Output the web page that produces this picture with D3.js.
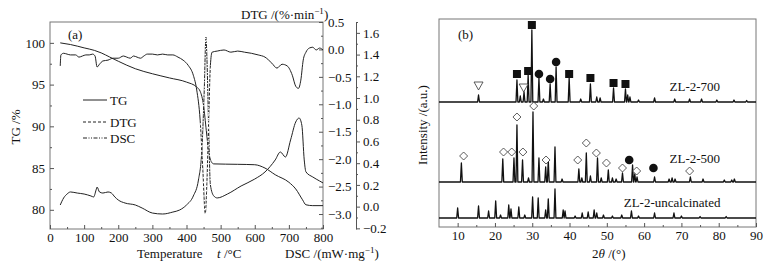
<!DOCTYPE html>
<meta charset="utf-8">
<style>
body { margin: 0; background: #fff; }
text { font: 13px "Liberation Serif", "Times New Roman", serif; fill: #111; }
.frame { stroke: #777; fill: none; stroke-width: 1; }
.axis path, .axis line { stroke: #555; }
.axis text { font: 13px "Liberation Serif", serif; fill: #111; }
</style>
<svg width="778" height="267"></svg>
<script src="https://d3js.org/d3.v7.min.js"></script>
<script>
// ---- panel (a): thermal analysis, [T (°C), value] ----
var tgData = [[30,100.0],[60,99.8],[100,99.4],[130,99.1],[150,98.8],[175,98.3],[200,97.8],[250,96.9],
  [300,96.3],[350,95.8],[400,95.3],[430,94.7],[440,94.2],[450,92.5],[458,89.5],[465,87.0],[472,85.8],
  [480,85.5],[550,85.45],[600,85.4],[630,85.0],[660,84.2],[700,83.3],[720,82.5],[740,81.2],[750,80.6],
  [770,80.5],[800,80.5]];

var dtgData = [[30,-0.30],[32,-0.10],[40,-0.07],[50,-0.085],[60,-0.10],[75,-0.10],[85,-0.14],[95,-0.12],
  [105,-0.10],[115,-0.10],[125,-0.085],[132,-0.12],[138,-0.32],[145,-0.27],[155,-0.21],[170,-0.195],
  [185,-0.16],[200,-0.16],[215,-0.12],[225,-0.14],[235,-0.16],[245,-0.12],[255,-0.14],[265,-0.16],
  [275,-0.12],[285,-0.085],[300,-0.085],[315,-0.10],[330,-0.085],[345,-0.10],[360,-0.10],[375,-0.14],
  [390,-0.195],[405,-0.29],[420,-0.47],[430,-0.74],[440,-1.29],[448,-2.21],[455,-2.99],[460,-2.39],
  [465,-1.29],[470,-0.29],[475,-0.05],[490,-0.03],[510,-0.01],[530,-0.05],[550,-0.03],[570,-0.05],
  [590,-0.07],[610,-0.10],[630,-0.14],[650,-0.25],[665,-0.34],[680,-0.27],[695,-0.30],[710,-0.47],
  [720,-0.67],[728,-0.71],[735,-0.56],[742,-0.195],[750,-0.05],[760,0.025],[770,0.04],[780,-0.01],
  [790,0.025],[800,-0.01]];

var dscData = [[30,0.015],[40,0.08],[50,0.116],[60,0.135],[80,0.125],[100,0.116],[120,0.098],[128,0.089],
  [135,0.153],[138,0.18],[145,0.135],[155,0.125],[170,0.135],[180,0.125],[190,0.089],[200,0.061],
  [220,0.033],[250,0.015],[270,-0.013],[300,-0.059],[330,-0.068],[360,-0.05],[380,-0.031],[400,0.015],
  [420,0.098],[435,0.245],[445,0.52],[452,1.07],[457,1.56],[460,1.35],[465,0.71],[470,0.2],[480,0.098],
  [490,0.08],[520,0.116],[560,0.19],[600,0.254],[630,0.319],[660,0.43],[675,0.503],[690,0.457],
  [705,0.614],[720,0.779],[730,0.816],[738,0.75],[745,0.43],[750,0.32],[770,0.273],[790,0.236],[800,0.218]];

var tgTicks = [80, 85, 90, 95, 100];
var dtgTicks = [0.5, 0, -0.5, -1.0, -1.5, -2.0, -2.5, -3.0];
var dscTicks = [-0.2, 0, 0.2, 0.4, 0.6, 0.8, 1.0, 1.2, 1.4, 1.6];
var tempTicks = [0, 100, 200, 300, 400, 500, 600, 700, 800];

// ---- panel (b): XRD peaks, [2θ, height] above each baseline ----
var peaksUncal = [[10.0,10],[15.6,12],[18.3,7],[20.2,17],[21.5,3],[23.7,13],[24.3,9],[26.4,11],[28.0,3],
  [30.1,21],[31.6,20],[33.6,8],[34.3,19],[36.1,29],[38.3,8],[38.8,7],[41.5,2],[43.4,5],[45.0,6],
  [46.6,8],[47.3,5],[49.1,3],[51.5,2],[54.0,3],[56.6,7],[58.5,2],[62.8,5],[68.0,5],[70.0,2],[75.0,1.5],[82.0,1.5]];
var peaks500 = [[11.0,19],[22.1,23],[25.1,24],[25.9,57],[27.4,22],[29.0,4],[30.2,70],[31.8,24],[33.6,15],
  [34.3,22],[36.1,35],[38.0,3],[42.5,13],[43.3,4],[44.5,29],[45.6,6],[47.5,24],[48.5,4],[50.4,12],
  [51.5,4],[52.5,3],[54.2,9],[56.9,17],[57.5,8],[58.1,5],[62.8,5],[66.7,3],[67.5,4],[68.3,3],[72.4,5],
  [75.8,3],[81.5,2],[83.5,2],[84.2,3]];
var peaks700 = [[15.6,7],[25.9,22],[26.8,6],[27.8,10],[28.9,27],[29.9,72],[31.8,24],[33.0,3],[34.8,18],
  [36.4,35],[39.9,24],[43.0,3],[45.6,18],[47.3,5],[48.2,4],[51.8,14],[55.0,13],[55.6,7],[56.2,5],
  [58.5,2],[62.8,4],[68.2,3],[72.2,3],[75.4,3],[79.5,2],[84.1,2],[87.5,1.5]];
var offsets = { uncal: 9, p500: 45, p700: 125 };
var xrdLabels = [["ZL-2-700", 73.6, 141], ["ZL-2-500", 73.6, 69], ["ZL-2-uncalcinated", 67.5, 25]];

// phase markers: [shape, 2θ, level above baseline]
var marks700 = [["tri",15.6,16],["sq",25.9,28],["tri",27.7,14],["sq",28.9,31],["sq",29.9,77],
  ["dot",31.8,28],["dot",34.8,23],["dot",36.4,40],["sq",39.9,28],["sq",45.6,24],["sq",51.8,19],["sq",55.0,18]];
var marks500 = [["dia",11.6,26],["dia",22.3,30],["dia",24.5,30],["dia",25.9,65],["dia",27.5,30],
  ["dia",30.4,76],["dia",33.7,22],["dia",42.2,22],["dia",44.5,39],["dia",47.2,29],["dia",49.9,19],
  ["dia",54.2,14],["dot",56.0,22],["dia",58.0,11],["dot",62.5,14],["dia",72.2,11]];
var thetaTicks = [10, 20, 30, 40, 50, 60, 70, 80, 90];

var svg = d3.select("svg");

// ================= panel (a) =================
var x = d3.scaleLinear().domain([0, 800]).range([50, 323]);
var yTG = d3.scaleLinear().domain([77.7, 102.5]).range([229, 22]);
var yDTG = d3.scaleLinear().domain([-3.273, 0.5]).range([229, 22]);
var yDSC = d3.scaleLinear().domain([-0.206, 1.70]).range([229, 22]);

svg.append("rect").attr("class", "frame").attr("x", 50).attr("y", 22).attr("width", 273).attr("height", 207);

function noDomain(g) { g.select(".domain").remove(); }

svg.append("g").attr("class", "axis").attr("transform", "translate(0,229)")
  .call(d3.axisBottom(x).tickValues(tempTicks).tickSize(-4).tickPadding(4).tickFormat(d3.format("d")))
  .call(noDomain);
svg.append("g").attr("class", "axis").attr("transform", "translate(0,229)")
  .call(d3.axisBottom(x).tickValues(d3.range(50, 800, 100)).tickSize(-2).tickFormat(""))
  .call(noDomain);

svg.append("g").attr("class", "axis").attr("transform", "translate(50,0)")
  .call(d3.axisLeft(yTG).tickValues(tgTicks).tickSize(-4).tickPadding(5))
  .call(noDomain);
svg.append("g").attr("class", "axis").attr("transform", "translate(50,0)")
  .call(d3.axisLeft(yTG).tickValues([82.5, 87.5, 92.5, 97.5]).tickSize(-2).tickFormat(""))
  .call(noDomain);

svg.append("g").attr("class", "axis").attr("transform", "translate(323,0)")
  .call(d3.axisRight(yDTG).tickValues(dtgTicks).tickSize(-4).tickPadding(5).tickFormat(d3.format(".1f")))
  .call(noDomain);
svg.append("g").attr("class", "axis").attr("transform", "translate(323,0)")
  .call(d3.axisRight(yDTG).tickValues([0.25, -0.25, -0.75, -1.25, -1.75, -2.25, -2.75, -3.25]).tickSize(-2).tickFormat(""))
  .call(noDomain);

svg.append("g").attr("class", "axis").attr("transform", "translate(356,0)")
  .call(d3.axisRight(yDSC).tickValues(dscTicks).tickSize(4).tickSizeOuter(0).tickPadding(3).tickFormat(d3.format(".1f")));
svg.append("g").attr("class", "axis").attr("transform", "translate(356,0)")
  .call(d3.axisRight(yDSC).tickValues([-0.1, 0.1, 0.3, 0.5, 0.7, 0.9, 1.1, 1.3, 1.5, 1.7]).tickSize(2).tickFormat(""))
  .call(noDomain);

var lineTG = d3.line().x(d => x(d[0])).y(d => yTG(d[1])).curve(d3.curveMonotoneX);
var lineDTG = d3.line().x(d => x(d[0])).y(d => yDTG(d[1])).curve(d3.curveMonotoneX);
var lineDSC = d3.line().x(d => x(d[0])).y(d => yDSC(d[1])).curve(d3.curveMonotoneX);

svg.append("path").attr("d", lineTG(tgData)).attr("fill", "none").attr("stroke", "#222").attr("stroke-width", 1);
svg.append("path").attr("d", lineDTG(dtgData)).attr("fill", "none").attr("stroke", "#222").attr("stroke-width", 1);
svg.append("path").attr("d", lineDSC(dscData)).attr("fill", "none").attr("stroke", "#222").attr("stroke-width", 1);

// dashed / dash-dot look around the big peak, as in the figure
svg.append("path").attr("d", lineDTG(dtgData.filter(d => d[0] >= 440 && d[0] <= 470)))
  .attr("fill", "none").attr("stroke", "#fff").attr("stroke-width", 1.6).attr("stroke-dasharray", "0,3,1.5,0");
svg.append("path").attr("d", lineDSC(dscData.filter(d => d[0] >= 445 && d[0] <= 470)))
  .attr("fill", "none").attr("stroke", "#fff").attr("stroke-width", 1.6).attr("stroke-dasharray", "0,4,1,2,1,0");

// legend
var legend = [["TG", null, 100], ["DTG", "3,2", 122], ["DSC", "4,1.5,1,1.5,1,1.5", 138]];
legend.forEach(function(l) {
  svg.append("line").attr("x1", 83).attr("x2", 107).attr("y1", l[2]).attr("y2", l[2])
    .attr("stroke", "#222").attr("stroke-dasharray", l[1]);
  svg.append("text").attr("x", 110).attr("y", l[2] + 4.5).text(l[0]);
});
svg.append("text").attr("x", 68).attr("y", 39).text("(a)");

svg.append("text").attr("transform", "translate(20,127) rotate(-90)").attr("text-anchor", "middle").text("TG /%");
var dtgT = svg.append("text").attr("x", 241).attr("y", 19).text("DTG /(%·min");
dtgT.append("tspan").attr("dy", -5).attr("font-size", 9).text("−1");
dtgT.append("tspan").attr("dy", 5).text(")");
svg.append("text").attr("x", 137).attr("y", 258).text("Temperature");
var tT = svg.append("text").attr("x", 217).attr("y", 258);
tT.append("tspan").attr("font-style", "italic").text("t");
tT.append("tspan").text(" /°C");
var dscT = svg.append("text").attr("x", 285).attr("y", 258).text("DSC /(mW·mg");
dscT.append("tspan").attr("dy", -5).attr("font-size", 9).text("−1");
dscT.append("tspan").attr("dy", 5).text(")");

// ================= panel (b) =================
var xb = d3.scaleLinear().domain([5, 90]).range([439, 756]);
var yb = d3.scaleLinear().domain([0, 208]).range([227, 19]);

svg.append("rect").attr("class", "frame").attr("x", 439).attr("y", 19).attr("width", 317).attr("height", 208);
svg.append("g").attr("class", "axis").attr("transform", "translate(0,227)")
  .call(d3.axisBottom(xb).tickValues(thetaTicks).tickSize(-4).tickPadding(4))
  .call(noDomain);
svg.append("g").attr("class", "axis").attr("transform", "translate(0,227)")
  .call(d3.axisBottom(xb).tickValues(d3.range(15, 90, 10)).tickSize(-2).tickFormat(""))
  .call(noDomain);

var lineB = d3.line().x(d => xb(d[0])).y(d => yb(d[1]));
function pattern(peaks, off) {
  var pts = [[5, off]];
  peaks.forEach(function(p) {
    pts.push([p[0] - 0.25, off], [p[0], off + p[1]], [p[0] + 0.25, off]);
  });
  pts.push([90, off]);
  return pts;
}
[[peaksUncal, offsets.uncal], [peaks500, offsets.p500], [peaks700, offsets.p700]].forEach(function(s) {
  svg.append("path").attr("d", lineB(pattern(s[0], s[1]))).attr("fill", "none")
    .attr("stroke", "#111").attr("stroke-width", 1.3).attr("stroke-linejoin", "round");
});

function drawMarks(list, off) {
  list.forEach(function(m) {
    var cx = xb(m[1]), cy = yb(off + m[2]);
    if (m[0] === "sq") svg.append("rect").attr("x", cx - 4).attr("y", cy - 4).attr("width", 8).attr("height", 8).attr("fill", "#111");
    if (m[0] === "dot") svg.append("circle").attr("cx", cx).attr("cy", cy).attr("r", 4.3).attr("fill", "#111");
    if (m[0] === "dia") svg.append("path").attr("d", "M" + cx + "," + (cy - 4) + "l4,4l-4,4l-4,-4z")
      .attr("fill", "#fff").attr("stroke", "#333").attr("stroke-width", 0.8);
    if (m[0] === "tri") svg.append("path").attr("d", "M" + (cx - 4.5) + "," + (cy - 4) + "h9l-4.5,8z")
      .attr("fill", "#fff").attr("stroke", "#333").attr("stroke-width", 0.8);
  });
}
drawMarks(marks700, offsets.p700);
drawMarks(marks500, offsets.p500);

xrdLabels.forEach(function(l) {
  svg.append("text").attr("x", xb(l[1])).attr("y", yb(l[2]) + 4.5).attr("text-anchor", "middle").text(l[0]);
});
svg.append("text").attr("x", 458).attr("y", 39).text("(b)");
svg.append("text").attr("transform", "translate(427,125) rotate(-90)").attr("text-anchor", "middle").text("Intensity /(a.u.)");
var thT = svg.append("text").attr("x", 592).attr("y", 258);
thT.append("tspan").text("2");
thT.append("tspan").attr("font-style", "italic").text("θ");
thT.append("tspan").text(" /(°)");
</script>
